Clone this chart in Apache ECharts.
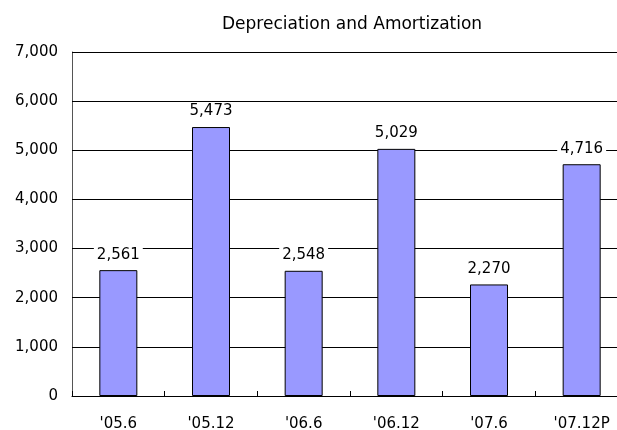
<!DOCTYPE html>
<html>
<head>
<meta charset="utf-8">
<script src="https://cdn.jsdelivr.net/npm/echarts@6/dist/echarts.min.js"></script>
<style>
  html, body { margin: 0; padding: 0; background: #fff; }
  #chart { width: 617px; height: 430px; }
</style>
</head>
<body>
<div id="chart"></div>
<script>
// 期間ラベル
const periods = ["'05.6", "'05.12", "'06.6", "'06.12", "'07.6", "'07.12P"]
// 減価償却費
const amounts = [2561, 5473, 2548, 5029, 2270, 4716]
// y軸の目盛
const yMin = 0
const yMax = 7000
const yStep = 1000

const font = 'DejaVu Sans'
const chart = echarts.init(document.getElementById('chart'))

const option = {
  backgroundColor: '#fff',
  animation: false,
  title: {
    text: 'Depreciation and Amortization',
    left: 217,
    top: 11,
    textStyle: { fontFamily: font, fontSize: 17, fontWeight: 'normal', color: '#000' }
  },
  // 右端は画面外まではみ出す
  grid: {
    left: 72,
    top: 52,
    bottom: 34,
    width: 556,
    outerBoundsMode: 'none'
  },
  xAxis: {
    type: 'category',
    data: periods,
    axisLine: { lineStyle: { color: '#000', width: 1 } },
    axisTick: { show: true, inside: true, length: 5, lineStyle: { color: '#000' } },
    axisLabel: { fontFamily: font, fontSize: 15, color: '#000', margin: 21 }
  },
  yAxis: {
    type: 'value',
    min: yMin,
    max: yMax,
    interval: yStep,
    axisLine: { show: true, lineStyle: { color: '#555', width: 1 } },
    axisTick: { show: true, inside: true, length: 5, lineStyle: { color: '#000' } },
    splitLine: { show: true, lineStyle: { color: '#000', width: 1 } },
    axisLabel: {
      fontFamily: font,
      fontSize: 15,
      color: '#000',
      margin: 14,
      formatter: v => v.toLocaleString('en-US')
    }
  },
  series: [{
    type: 'bar',
    data: amounts,
    barWidth: 38,
    itemStyle: { color: '#9999ff', borderColor: '#000', borderWidth: 1 },
    label: {
      show: true,
      position: 'top',
      distance: 6,
      fontFamily: font,
      fontSize: 15,
      color: '#000',
      backgroundColor: '#fff',
      padding: [2, 3],
      formatter: p => p.value.toLocaleString('en-US')
    }
  }]
}
chart.setOption(option)
</script>
</body>
</html>
